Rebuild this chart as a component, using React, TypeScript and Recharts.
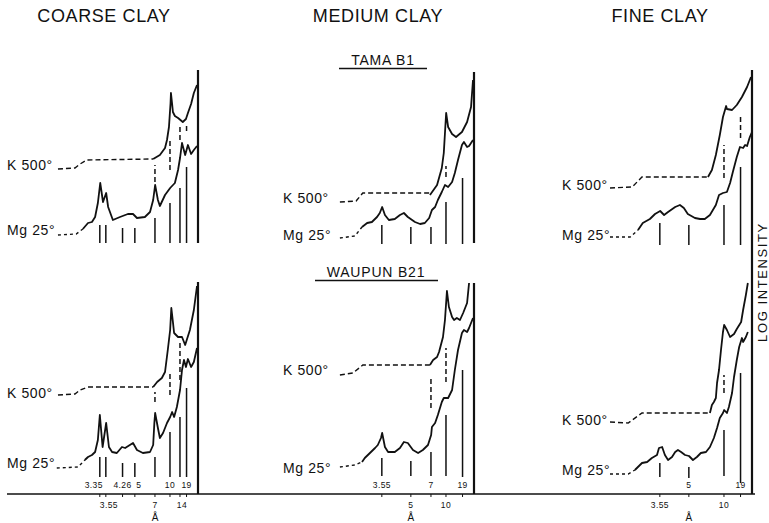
import { LineChart, Line, XAxis, YAxis, ReferenceLine } from "recharts";

// X-ray diffraction traces: x = 2θ (deg, Cu Kα), y = log intensity (arbitrary units above baseline)
const WAVELENGTH = 1.5418;
const BEAM_CUTOFF = 1.75;
const INK = "#111";
const FONT = "'Liberation Sans', Arial, sans-serif";

type Pair = [number, number];
type Mark = [number, number, number]; // d-spacing, top, bottom

// ---------- COARSE CLAY ----------
const coarseTamaKLead: Pair[] = [[37.2, 325], [32.9, 326], [31.6, 330], [29.9, 334], [13.1, 335]];
const coarseTamaK: Pair[] = [
  [13.1, 335], [11.4, 339], [10.1, 346], [9.6, 354], [9.1, 367], [8.7, 391], [8.6, 401], [8.3, 390],
  [8.1, 382], [7.6, 378], [6.8, 376], [5.6, 372], [4.8, 375], [4.3, 381], [3.5, 390], [2.8, 401], [2.0, 409],
];
const coarseTamaMgLead: Pair[] = [[37.2, 259], [32.6, 260], [30.9, 265]];
const coarseTamaMg: Pair[] = [
  [30.9, 265], [29.6, 271], [28.6, 272], [27.8, 277], [27.1, 291], [26.5, 311], [25.8, 292], [25.0, 301],
  [24.5, 287], [23.3, 274], [21.5, 277], [19.5, 280], [18.2, 280], [17.2, 276], [15.2, 277], [13.9, 282],
  [13.1, 294], [12.6, 309], [11.9, 294], [11.4, 288], [10.1, 299], [8.8, 306], [7.6, 311], [6.8, 324],
  [6.3, 336], [5.8, 351], [5.0, 339], [4.3, 349], [3.5, 340], [2.8, 344], [2.0, 348],
];
const coarseWaupunKLead: Pair[] = [[37.2, 99], [32.9, 100], [31.6, 104], [29.6, 107], [13.1, 107]];
const coarseWaupunK: Pair[] = [
  [13.1, 107], [12.1, 112], [10.9, 116], [10.1, 122], [9.4, 144], [8.8, 164], [8.5, 186], [8.1, 172],
  [7.8, 161], [6.8, 157], [5.8, 157], [5.0, 149], [3.8, 164], [2.8, 184], [2.0, 208],
];
const coarseWaupunMgLead: Pair[] = [[37.5, 26], [32.1, 27], [30.4, 34]];
const coarseWaupunMg: Pair[] = [
  [30.4, 34], [29.6, 37], [28.6, 39], [27.8, 42], [27.1, 54], [26.6, 79], [25.9, 47], [25.0, 71],
  [24.3, 47], [23.5, 42], [22.3, 41], [21.0, 47], [20.2, 46], [19.0, 49], [18.2, 51], [17.2, 44],
  [15.7, 41], [13.9, 42], [13.1, 49], [12.8, 71], [12.6, 81], [11.9, 66], [11.4, 56], [10.6, 61],
  [9.6, 71], [8.8, 77], [8.3, 82], [7.8, 77], [7.1, 87], [6.3, 104], [5.8, 124], [5.3, 134], [4.8, 127],
  [4.3, 135], [3.5, 127], [2.8, 132], [2.0, 146],
];
const coarseTamaMgMarks: Mark[] = [
  [3.35, 269, 251], [3.55, 269, 251], [4.26, 266, 251], [5, 266, 251],
  [7, 276, 251], [10, 291, 251], [14, 306, 251], [19, 327, 251],
];
const coarseTamaKMarks: Mark[] = [[7, 329, 312], [10, 354, 324], [14, 369, 354], [19, 371, 363]];
const coarseWaupunMgMarks: Mark[] = [
  [3.35, 37, 17], [3.55, 37, 17], [4.26, 31, 17], [5, 31, 17],
  [7, 37, 17], [10, 62, 17], [14, 77, 17], [19, 106, 17],
];
const coarseWaupunKMarks: Mark[] = [[7, 102, 92], [10, 122, 99], [14, 151, 114]];
const coarseLabelsAbove = ["3.35", "4.26", "5", "10", "19"];
const coarseLabelsBelow = ["3.55", "7", "14"];

// ---------- MEDIUM CLAY ----------
const mediumTamaKLead: Pair[] = [[35.7, 292], [31.6, 293], [29.9, 301], [12.9, 301]];
const mediumTamaK: Pair[] = [
  [12.9, 299], [11.1, 309], [9.9, 326], [9.4, 341], [8.8, 381], [8.3, 367], [7.3, 360], [6.3, 357],
  [4.8, 362], [3.5, 372], [2.5, 387], [2.0, 414],
];
const mediumTamaMgLead: Pair[] = [[35.7, 256], [31.9, 258], [30.1, 267]];
const mediumTamaMg: Pair[] = [
  [30.1, 267], [28.8, 271], [27.6, 272], [26.3, 277], [25.6, 281], [25.0, 287], [24.3, 279], [23.3, 274],
  [21.8, 275], [20.5, 279], [19.5, 281], [18.5, 277], [16.7, 272], [15.4, 270], [14.2, 271], [13.1, 276],
  [12.4, 284], [11.6, 287], [10.9, 294], [9.9, 302], [9.1, 309], [8.3, 307], [7.3, 312], [6.6, 321],
  [5.8, 334], [4.8, 349], [4.3, 352], [3.5, 347], [3.0, 348], [2.0, 354],
];
const mediumWaupunKLead: Pair[] = [[35.7, 119], [32.4, 121], [29.9, 129], [12.9, 129]];
const mediumWaupunK: Pair[] = [
  [12.9, 129], [12.1, 134], [11.1, 137], [10.6, 142], [9.6, 157], [9.1, 174], [8.6, 203], [8.1, 187],
  [7.3, 177], [6.8, 174], [6.1, 176], [5.3, 174], [4.5, 181], [3.5, 191], [3.0, 211],
];
const mediumWaupunMgLead: Pair[] = [[35.7, 27], [31.9, 29], [30.1, 32]];
const mediumWaupunMg: Pair[] = [
  [30.1, 32], [29.4, 36], [28.1, 41], [26.8, 46], [26.1, 49], [25.3, 56], [25.0, 61], [24.3, 47],
  [23.5, 42], [21.8, 42], [20.5, 46], [19.5, 52], [18.5, 51], [17.2, 44], [15.9, 41], [14.7, 44],
  [13.4, 49], [12.6, 59], [12.4, 67], [11.6, 71], [10.9, 79], [9.9, 92], [9.4, 96], [8.3, 96],
  [7.3, 104], [6.6, 124], [5.8, 144], [4.8, 161], [4.3, 164], [3.5, 162], [3.0, 166], [2.0, 176],
];
const mediumTamaMgMarks: Mark[] = [[3.55, 269, 250], [5, 267, 250], [7, 267, 250], [10, 292, 250], [19, 316, 250]];
const mediumTamaKMarks: Mark[] = [[10, 328, 317]];
const mediumWaupunMgMarks: Mark[] = [[3.55, 36, 18], [5, 33, 18], [7, 42, 18], [10, 79, 18], [19, 124, 17]];
const mediumWaupunKMarks: Mark[] = [[7, 117, 86], [10, 146, 112]];
const mediumLabelsAbove = ["3.55", "7", "19"];
const mediumLabelsBelow = ["5", "10"];

// ---------- FINE CLAY ----------
const fineTamaKLead: Pair[] = [[37.7, 306], [32.1, 307], [29.6, 317], [12.9, 317]];
const fineTamaK: Pair[] = [
  [12.9, 317], [11.9, 324], [10.9, 339], [9.9, 359], [9.1, 377], [8.3, 388], [8.1, 385], [6.8, 384],
  [5.6, 389], [4.3, 397], [3.0, 407], [2.0, 417],
];
const fineTamaMgLead: Pair[] = [[37.7, 257], [32.6, 257], [30.6, 264]];
const fineTamaMg: Pair[] = [
  [30.6, 264], [29.4, 271], [27.6, 275], [26.3, 280], [25.0, 283], [24.0, 279], [23.0, 282], [21.2, 287],
  [20.0, 289], [19.0, 286], [18.0, 280], [16.2, 276], [14.9, 275], [13.7, 275], [12.4, 279], [10.9, 289],
  [10.1, 299], [9.1, 301], [8.1, 302], [7.3, 311], [6.6, 322], [5.6, 337], [4.8, 347], [4.0, 346],
  [3.5, 349], [3.0, 348], [2.3, 357], [1.75, 362],
];
const fineWaupunKLead: Pair[] = [[37.7, 72], [33.1, 71], [29.6, 81], [12.4, 81]];
const fineWaupunK: Pair[] = [
  [12.4, 81], [11.9, 89], [11.4, 92], [10.9, 96], [10.6, 111], [10.1, 124], [9.6, 144], [9.1, 162],
  [8.8, 169], [8.1, 164], [7.3, 157], [6.3, 160], [5.6, 165], [4.5, 172], [4.0, 184], [3.3, 199], [2.8, 211],
];
const fineWaupunMgLead: Pair[] = [[37.7, 20], [33.1, 20], [31.4, 24]];
const fineWaupunMg: Pair[] = [
  [31.4, 24], [29.6, 31], [28.3, 32], [27.1, 36], [25.8, 39], [25.3, 46], [24.5, 47], [23.8, 39],
  [23.0, 34], [22.0, 37], [21.2, 42], [20.5, 44], [19.7, 42], [18.7, 39], [17.7, 38], [16.7, 34],
  [15.7, 37], [14.7, 41], [13.4, 42], [12.4, 47], [11.4, 56], [10.6, 66], [9.9, 76], [9.1, 81],
  [8.8, 84], [8.1, 81], [7.6, 87], [6.8, 101], [6.3, 117], [5.6, 134], [5.0, 147], [4.3, 156],
  [4.0, 152], [3.3, 157], [2.8, 162],
];
const fineTamaMgMarks: Mark[] = [[3.55, 271, 249], [5, 269, 249], [10, 289, 249], [19, 327, 249]];
const fineTamaKMarks: Mark[] = [[10, 349, 316], [19, 379, 356]];
const fineWaupunMgMarks: Mark[] = [[3.55, 31, 17], [5, 27, 16], [10, 64, 18], [19, 121, 11]];
const fineWaupunKMarks: Mark[] = [[10, 119, 101]];
const fineLabelsAbove = ["5", "19"];
const fineLabelsBelow = ["3.55", "10"];

// ---------- helpers ----------
const twoTheta = (d: number) => (2 * Math.asin(WAVELENGTH / (2 * d)) * 180) / Math.PI;
const pts = (rows: Pair[]) => rows.map(([x, y]) => ({ x, y }));

const PX_PER_DEG = 3.95;
const Y_MAX = 424;

type ColumnProps = {
  left: number;
  right: number;
  cutPx: number;
  kLeads: Pair[][];
  kBodies: Pair[][];
  mgLeads: Pair[][];
  mgBodies: Pair[][];
  solidMarks: Mark[];
  dashedMarks: Mark[];
  cutoffSpans: Pair[];
  above: string[];
  below: string[];
  angstrom: string;
  nudge?: Record<string, number>;
};

function Column(p: ColumnProps) {
  const width = p.right - p.left;
  const hi = BEAM_CUTOFF + (p.cutPx - p.left) / PX_PER_DEG;
  const lo = BEAM_CUTOFF - (p.right - p.cutPx) / PX_PER_DEG;
  const labels = [...p.above, ...p.below];
  const ticks = labels.map((s) => twoTheta(parseFloat(s)));

  const renderTick = (props: any) => {
    const { x, y, payload } = props;
    const label = labels.find((s) => Math.abs(twoTheta(parseFloat(s)) - payload.value) < 1e-6);
    if (!label) return <g />;
    const up = p.above.includes(label);
    const dx = p.nudge?.[label] ?? 0;
    return (
      <g>
        <text x={x + dx} y={up ? y - 9 : y + 11} textAnchor="middle" fontSize={8.5}
          letterSpacing={0.4} fill={INK} fontFamily={FONT}>{label}</text>
        {label === p.angstrom && (
          <text x={x} y={y + 24} textAnchor="middle" fontSize={10} fill={INK} fontFamily={FONT}>Å</text>
        )}
      </g>
    );
  };

  const lineProps = { dataKey: "y", stroke: INK, dot: false, isAnimationActive: false, type: "linear" as const };

  return (
    <div style={{ position: "absolute", left: p.left, top: 0 }}>
      <LineChart width={width} height={523} margin={{ top: 70, right: 0, bottom: 0, left: 0 }}>
        <XAxis type="number" dataKey="x" domain={[lo, hi]} reversed allowDataOverflow
          ticks={ticks} interval={0} tick={renderTick} tickSize={3} tickMargin={0} height={29}
          axisLine={{ stroke: INK, strokeWidth: 1.6 }} tickLine={{ stroke: INK, strokeWidth: 1 }} />
        <YAxis type="number" domain={[0, Y_MAX]} hide allowDataOverflow />
        {p.cutoffSpans.map(([a, b], i) => (
          <ReferenceLine key={`c${i}`} segment={[{ x: BEAM_CUTOFF, y: a }, { x: BEAM_CUTOFF, y: b }]}
            stroke={INK} strokeWidth={2.2} />
        ))}
        {p.solidMarks.map(([d, top, bottom], i) => (
          <ReferenceLine key={`s${i}`} segment={[{ x: twoTheta(d), y: bottom }, { x: twoTheta(d), y: top }]}
            stroke={INK} strokeWidth={1.5} />
        ))}
        {p.dashedMarks.map(([d, top, bottom], i) => (
          <ReferenceLine key={`d${i}`} segment={[{ x: twoTheta(d), y: bottom }, { x: twoTheta(d), y: top }]}
            stroke={INK} strokeWidth={1.5} strokeDasharray="5 3" />
        ))}
        {p.kLeads.map((rows, i) => (
          <Line key={`kl${i}`} data={pts(rows)} {...lineProps} strokeWidth={1.4} strokeDasharray="5 3" />
        ))}
        {p.mgLeads.map((rows, i) => (
          <Line key={`ml${i}`} data={pts(rows)} {...lineProps} strokeWidth={1.4} strokeDasharray="3 3" />
        ))}
        {[...p.kBodies, ...p.mgBodies].map((rows, i) => (
          <Line key={`b${i}`} data={pts(rows)} {...lineProps} strokeWidth={1.8} strokeLinejoin="round" />
        ))}
      </LineChart>
    </div>
  );
}

const traceLabel = { fontSize: 14, letterSpacing: 0.6, fill: INK, fontFamily: FONT };
const titleStyle = { fontSize: 18, letterSpacing: 0.6, fill: INK, fontFamily: FONT, textAnchor: "middle" as const };

export default function App() {
  return (
    <div style={{ position: "absolute", left: 0, top: 0, width: 769, height: 523, background: "#fff" }}>
      <Column left={7} right={265} cutPx={198}
        kLeads={[coarseTamaKLead, coarseWaupunKLead]} kBodies={[coarseTamaK, coarseWaupunK]}
        mgLeads={[coarseTamaMgLead, coarseWaupunMgLead]} mgBodies={[coarseTamaMg, coarseWaupunMg]}
        solidMarks={[...coarseTamaMgMarks, ...coarseWaupunMgMarks]}
        dashedMarks={[...coarseTamaKMarks, ...coarseWaupunKMarks]}
        cutoffSpans={[[0, 212], [251, 424]]}
        above={coarseLabelsAbove} below={coarseLabelsBelow} angstrom="7"
        nudge={{ "3.35": -6, "5": 4, "3.55": 3, "14": 2 }} />
      <Column left={265} right={505} cutPx={474}
        kLeads={[mediumTamaKLead, mediumWaupunKLead]} kBodies={[mediumTamaK, mediumWaupunK]}
        mgLeads={[mediumTamaMgLead, mediumWaupunMgLead]} mgBodies={[mediumTamaMg, mediumWaupunMg]}
        solidMarks={[...mediumTamaMgMarks, ...mediumWaupunMgMarks]}
        dashedMarks={[...mediumTamaKMarks, ...mediumWaupunKMarks]}
        cutoffSpans={[[0, 211], [251, 422]]}
        above={mediumLabelsAbove} below={mediumLabelsBelow} angstrom="5" />
      <Column left={505} right={755} cutPx={752}
        kLeads={[fineTamaKLead, fineWaupunKLead]} kBodies={[fineTamaK, fineWaupunK]}
        mgLeads={[fineTamaMgLead, fineWaupunMgLead]} mgBodies={[fineTamaMg, fineWaupunMg]}
        solidMarks={[...fineTamaMgMarks, ...fineWaupunMgMarks]}
        dashedMarks={[...fineTamaKMarks, ...fineWaupunKMarks]}
        cutoffSpans={[[0, 424]]}
        above={fineLabelsAbove} below={fineLabelsBelow} angstrom="5" />

      <svg width={769} height={523} style={{ position: "absolute", left: 0, top: 0, pointerEvents: "none" }}>
        <text x={104} y={22} {...titleStyle}>COARSE CLAY</text>
        <text x={378} y={22} {...titleStyle}>MEDIUM CLAY</text>
        <text x={660} y={22} {...titleStyle}>FINE CLAY</text>

        <text x={383} y={65} textAnchor="middle" fontSize={14} letterSpacing={0.8} fill={INK} fontFamily={FONT}>TAMA B1</text>
        <line x1={339} x2={427} y1={68.5} y2={68.5} stroke={INK} strokeWidth={1.4} />
        <text x={376} y={277} textAnchor="middle" fontSize={14} letterSpacing={0.8} fill={INK} fontFamily={FONT}>WAUPUN B21</text>
        <line x1={315} x2={438} y1={280.5} y2={280.5} stroke={INK} strokeWidth={1.4} />

        <text x={7} y={170} {...traceLabel}>K 500°</text>
        <text x={7} y={235} {...traceLabel}>Mg 25°</text>
        <text x={7} y={398} {...traceLabel}>K 500°</text>
        <text x={7} y={468} {...traceLabel}>Mg 25°</text>

        <text x={283} y={203} {...traceLabel}>K 500°</text>
        <text x={283} y={240} {...traceLabel}>Mg 25°</text>
        <text x={283} y={375} {...traceLabel}>K 500°</text>
        <text x={283} y={473} {...traceLabel}>Mg 25°</text>

        <text x={562} y={190} {...traceLabel}>K 500°</text>
        <text x={562} y={240} {...traceLabel}>Mg 25°</text>
        <text x={562} y={425} {...traceLabel}>K 500°</text>
        <text x={562} y={475} {...traceLabel}>Mg 25°</text>

        <text x={767} y={282} transform="rotate(-90 767 282)" textAnchor="middle" fontSize={13}
          letterSpacing={1.6} fill={INK} fontFamily={FONT}>LOG INTENSITY</text>
      </svg>
    </div>
  );
}
